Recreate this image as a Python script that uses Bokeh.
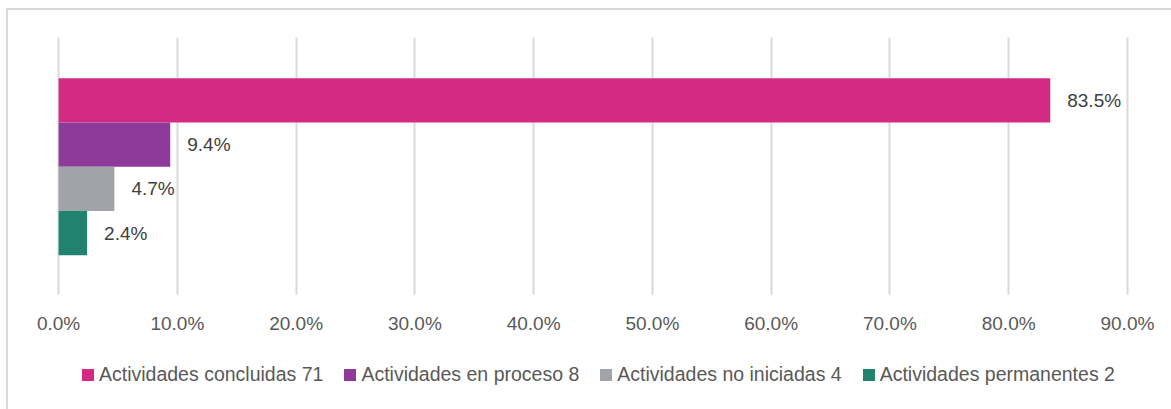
from bokeh.plotting import figure
from bokeh.models import ColumnDataSource, FixedTicker, Legend, LegendItem
from bokeh.core.properties import value
from bokeh.embed import file_html
from bokeh.resources import INLINE

# ---- data ----
categories = ["Actividades concluidas", "Actividades en proceso",
              "Actividades no iniciadas", "Actividades permanentes"]
counts = [71, 8, 4, 2]
percents = [83.5, 9.4, 4.7, 2.4]
value_labels = ["83.5%", "9.4%", "4.7%", "2.4%"]
colors = ["#D42A84", "#8E3A9B", "#A0A3A8", "#21826F"]
ticks = [0, 10, 20, 30, 40, 50, 60, 70, 80, 90]
tick_labels = ["0.0%", "10.0%", "20.0%", "30.0%", "40.0%", "50.0%",
               "60.0%", "70.0%", "80.0%", "90.0%"]

FONT = "Liberation Sans"

n = len(categories)
ypos = [n - 1 - i for i in range(n)]  # top to bottom
legend_labels = [f"{c} {k}" for c, k in zip(categories, counts)]

src = ColumnDataSource(dict(y=ypos, x=percents, color=colors,
                            label=value_labels, legend=legend_labels))

# layout (pixels): one bar band = 44px; frame extends down to hold axis labels + legend
BAND = 44.0
FRAME_H = 372.0
top_gap = 62.5 / BAND          # from frame top to first bar centre
plot_h = 256.0 / BAND          # height of the gridded area
y_top = (n - 1) + top_gap
y_bottom = y_top - FRAME_H / BAND
grid_bottom = y_top - plot_h

# horizontal: 0% .. 90% spans 1067px; frame spans the full content width
PX_PER_UNIT = 1067.0 / 90.0
x_start = 0 - 50.0 / PX_PER_UNIT
x_end = 90 + 46.0 / PX_PER_UNIT

p = figure(width=1165, height=401, output_backend="svg", toolbar_location=None,
           x_range=(x_start, x_end), y_range=(y_bottom, y_top),
           min_border_left=0, min_border_right=0, min_border_top=27,
           min_border_bottom=0)
p.styles = {"border-top": "2px solid #D9D9D9", "border-left": "2px solid #D9D9D9",
            "box-sizing": "border-box", "margin-left": "6px", "margin-top": "8px"}
p.outline_line_color = None
p.background_fill_color = "white"
p.border_fill_color = "white"

p.yaxis.visible = False
p.ygrid.visible = False
p.xgrid.ticker = FixedTicker(ticks=ticks)
p.xgrid.grid_line_color = "#D9D9D9"
p.xgrid.grid_line_width = 2
p.xgrid.cross_bounds = (grid_bottom, y_top)

xa = p.xaxis[0]
xa.fixed_location = grid_bottom
xa.ticker = FixedTicker(ticks=ticks)
xa.major_label_overrides = {t: l for t, l in zip(ticks, tick_labels)}
xa.axis_line_color = None
xa.major_tick_line_color = None
xa.minor_tick_line_color = None
xa.major_label_standoff = 12
xa.major_label_text_font = FONT
xa.major_label_text_font_size = "19px"
xa.major_label_text_color = "#595959"

bars = p.hbar(y="y", right="x", left=0, height=1.0, source=src,
              fill_color="color", line_color=None)

p.text(x="x", y="y", text="label", source=src, x_offset=17,
       text_align="left", text_baseline="middle",
       text_font=value(FONT), text_font_size="19px", text_color="#404040")

items = [LegendItem(label=legend_labels[i], renderers=[bars], index=i) for i in range(n)]
legend = Legend(items=items, orientation="horizontal", location=(72, 25),
                glyph_width=15, glyph_height=15, label_standoff=4, spacing=19,
                label_text_font=FONT, label_text_font_size="19.5px",
                label_text_color="#595959", border_line_color=None,
                background_fill_alpha=0, padding=0, margin=0)
p.add_layout(legend, "center")

open("out.html", "w").write(file_html(p, INLINE))
